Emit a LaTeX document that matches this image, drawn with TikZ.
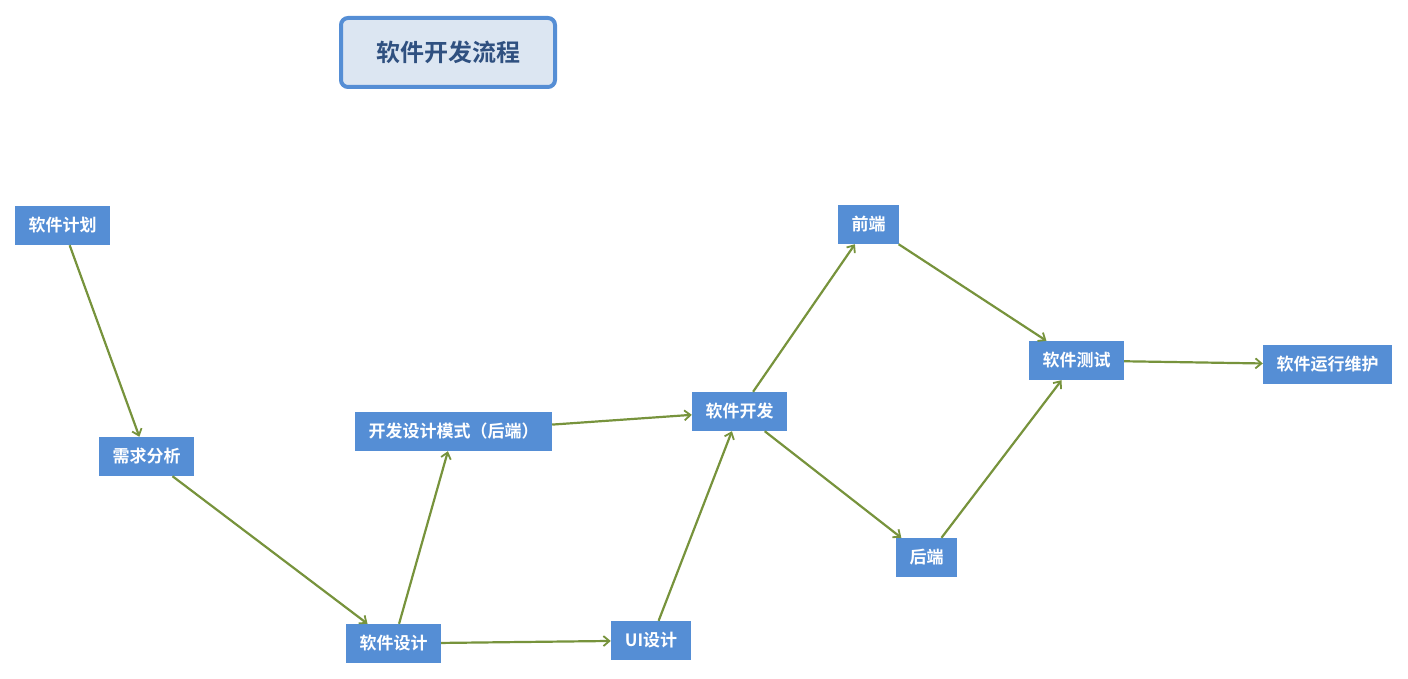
\documentclass[tikz,border=0pt]{standalone}
\usepackage{fontspec}
\setmainfont{Noto Sans CJK SC}[BoldFont={* Bold}]
\newfontfamily\cjk{Noto Sans CJK SC}[BoldFont={* Bold}]
\usetikzlibrary{arrows.meta}
\definecolor{boxblue}{HTML}{558ED5}
\definecolor{titlefill}{HTML}{DCE6F2}
\definecolor{titletext}{HTML}{2F5080}
\definecolor{arrowgreen}{HTML}{77933C}
\tikzset{
  box/.style={rectangle, fill=boxblue, text=white, minimum height=39pt, inner sep=0pt,
    font=\cjk\bfseries\fontsize{17}{19}\selectfont},
  flow/.style={draw=arrowgreen, line width=2.2pt, -{Straight Barb[length=6pt,width=10pt,line width=1.8pt]}},
  titlebox/.style={rectangle, rounded corners=7pt, draw=boxblue, line width=4pt, fill=titlefill,
    text=titletext, minimum width=214pt, minimum height=69pt, inner sep=0pt,
    font=\cjk\bfseries\fontsize{24}{27}\selectfont}
}
\begin{document}
\begin{tikzpicture}[x=1pt,y=-1pt]
\useasboundingbox (0,0) rectangle (1408,679);
\node[titlebox] (title) at (448,52.5) {软件开发流程};
\node[box, minimum width=95pt] (plan) at (62.5,225.5) {软件计划};
\node[box, minimum width=95pt] (req) at (146.5,456.5) {需求分析};
\node[box, minimum width=95pt] (design) at (393.5,643.5) {软件设计};
\node[box, minimum width=197pt] (mode) at (453.5,431.5) {开发设计模式（后端）};
\node[box, minimum width=80pt] (ui) at (651,640.5) {UI设计};
\node[box, minimum width=95pt] (dev) at (739.5,411.5) {软件开发};
\node[box, minimum width=61pt] (front) at (868.5,224.5) {前端};
\node[box, minimum width=61pt] (back) at (926.5,557.5) {后端};
\node[box, minimum width=95pt] (test) at (1076.5,360.5) {软件测试};
\node[box, minimum width=129pt] (ops) at (1327.5,364.5) {软件运行维护};
\draw[flow] (plan) -- (req);
\draw[flow] (req) -- (design);
\draw[flow] (design) -- (mode);
\draw[flow] (design) -- (ui);
\draw[flow] (mode) -- (dev);
\draw[flow] (ui) -- (dev);
\draw[flow] (dev) -- (front);
\draw[flow] (dev) -- (back);
\draw[flow] (front) -- (test);
\draw[flow] (back) -- (test);
\draw[flow] (test) -- (ops);
\end{tikzpicture}
\end{document}
